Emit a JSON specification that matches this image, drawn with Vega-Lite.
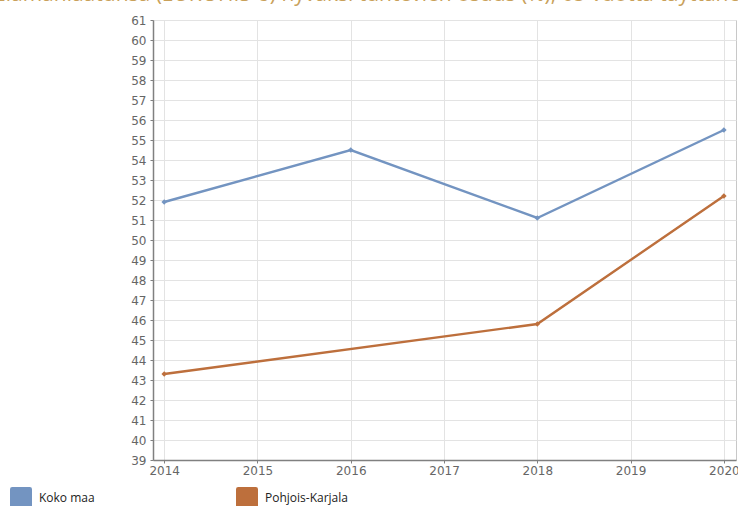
{
  "$schema": "https://vega.github.io/schema/vega-lite/v6.json",
  "autosize": "none",
  "padding": {"left": 153, "top": 20, "right": 2, "bottom": 46},
  "width": 583,
  "height": 440,
  "background": "white",
  "title": {
    "text": "Elämänlaatunsa (EUROHIS-8) hyväksi tuntevien osuus (%), 65 vuotta täyttäneet",
    "anchor": "start",
    "frame": "group",
    "baseline": "alphabetic",
    "offset": 0,
    "dx": -159,
    "dy": 8,
    "limit": 2000,
    "font": "Open Sans",
    "fontSize": 21,
    "fontWeight": "normal",
    "color": "#c9a15a"
  },
  "config": {
    "view": {"stroke": "#c8c8c8", "strokeWidth": 1},
    "axis": {
      "labelFont": "DejaVu Sans",
      "labelFontSize": 12,
      "labelColor": "#666666",
      "gridColor": "#e3e3e3",
      "gridWidth": 1,
      "domainColor": "#808080",
      "domainWidth": 1.5,
      "tickColor": "#808080",
      "tickSize": 3,
      "title": null
    }
  },
  "data": {
    "values": [
      {"vuosi": 2014, "alue": "Koko maa", "arvo": 51.9},
      {"vuosi": 2016, "alue": "Koko maa", "arvo": 54.5},
      {"vuosi": 2018, "alue": "Koko maa", "arvo": 51.1},
      {"vuosi": 2020, "alue": "Koko maa", "arvo": 55.5},
      {"vuosi": 2014, "alue": "Pohjois-Karjala", "arvo": 43.3},
      {"vuosi": 2018, "alue": "Pohjois-Karjala", "arvo": 45.8},
      {"vuosi": 2020, "alue": "Pohjois-Karjala", "arvo": 52.2}
    ]
  },
  "encoding": {
    "x": {
      "field": "vuosi",
      "type": "quantitative",
      "scale": {"domain": [2013.88, 2020.13], "nice": false, "zero": false},
      "axis": {"values": [2014, 2015, 2016, 2017, 2018, 2019, 2020], "format": "d", "labelPadding": 2, "labelFlush": false}
    },
    "y": {
      "field": "arvo",
      "type": "quantitative",
      "scale": {"domain": [39, 61], "nice": false, "zero": false},
      "axis": {"values": [39,40,41,42,43,44,45,46,47,48,49,50,51,52,53,54,55,56,57,58,59,60,61], "labelPadding": 4}
    },
    "color": {
      "field": "alue",
      "type": "nominal",
      "scale": {"domain": ["Koko maa", "Pohjois-Karjala"], "range": ["#7394c1", "#bd6f3c"]},
      "legend": {
        "title": null,
        "orient": "none",
        "legendX": -145,
        "legendY": 465,
        "direction": "horizontal",
        "columns": 2,
        "columnPadding": 141,
        "symbolType": "M -0.8,-1 L 0.8,-1 Q 1,-1 1,-0.8 L 1,0.8 Q 1,1 0.8,1 L -0.8,1 Q -1,1 -1,0.8 L -1,-0.8 Q -1,-1 -0.8,-1 Z",
        "symbolSize": 484,
        "symbolStrokeWidth": 0,
        "symbolOpacity": 1,
        "labelFont": "Open Sans",
        "labelFontSize": 12,
        "labelColor": "#222222",
        "labelOffset": 7,
        "padding": 2
      }
    }
  },
  "layer": [
    {"mark": {"type": "line", "strokeWidth": 2.4}},
    {"mark": {"type": "point", "shape": "diamond", "filled": true, "size": 30, "opacity": 1}}
  ]
}
